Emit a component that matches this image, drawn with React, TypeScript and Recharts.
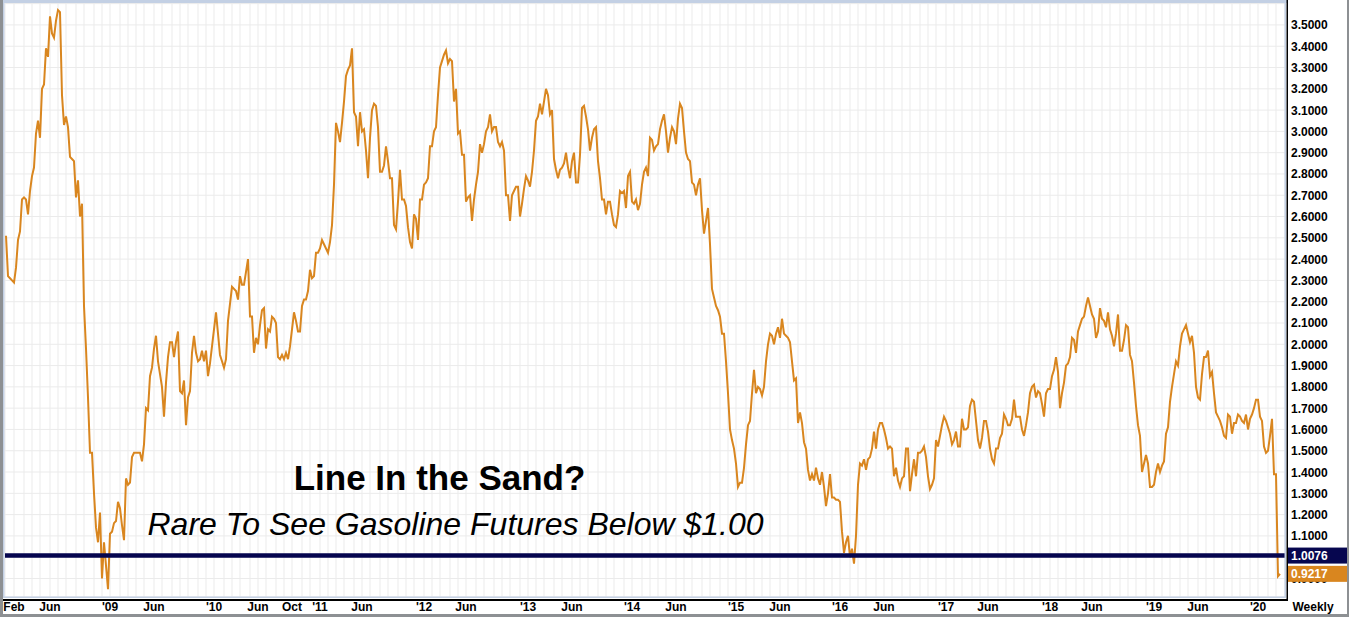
import React from "react";
import { LineChart, Line, XAxis, YAxis, CartesianGrid, ReferenceLine } from "recharts";

// Weekly gasoline futures closes, first week = 2008-01-04
const startDate = "2008-01-04";
const prices = [
  2.51, 2.32, 2.31, 2.30, 2.29, 2.36, 2.49, 2.53, 2.68, 2.69,
  2.68, 2.61, 2.72, 2.79, 2.83, 2.99, 3.05, 2.97, 3.20, 3.22,
  3.39, 3.35, 3.54, 3.46, 3.44, 3.52, 3.57, 3.56, 3.17, 3.03,
  3.07, 3.02, 2.88, 2.87, 2.86, 2.69, 2.77, 2.60, 2.66, 2.18,
  1.98, 1.75, 1.49, 1.49, 1.30, 1.14, 1.07, 1.21, 0.90, 1.07,
  0.96, 0.85, 1.11, 1.12, 1.16, 1.17, 1.26, 1.23, 1.15, 1.08,
  1.37, 1.34, 1.35, 1.47, 1.49, 1.49, 1.49, 1.49, 1.45, 1.53,
  1.70, 1.69, 1.85, 1.89, 1.98, 2.04, 1.92, 1.86, 1.80, 1.66,
  1.82, 1.94, 2.01, 2.01, 1.94, 2.01, 2.06, 1.78, 1.77, 1.83,
  1.62, 1.75, 1.78, 1.96, 2.04, 1.96, 1.92, 1.93, 1.97, 1.92,
  1.97, 1.85, 1.91, 1.99, 2.07, 2.15, 2.05, 1.95, 1.92, 1.89,
  1.93, 2.11, 2.19, 2.27, 2.26, 2.25, 2.21, 2.32, 2.28, 2.28,
  2.34, 2.40, 2.13, 2.13, 1.96, 2.03, 2.00, 2.09, 2.16, 2.17,
  1.98, 2.07, 2.06, 2.13, 2.12, 2.10, 1.94, 1.93, 1.95, 1.93,
  1.96, 1.93, 1.99, 2.07, 2.15, 2.11, 2.06, 2.06, 2.18, 2.21,
  2.21, 2.25, 2.35, 2.31, 2.32, 2.43, 2.43, 2.45, 2.49, 2.47,
  2.45, 2.43, 2.48, 2.56, 2.75, 3.04, 3.00, 2.95, 3.04, 3.14,
  3.26, 3.29, 3.31, 3.39, 3.09, 3.07, 2.93, 3.09, 3.00, 3.01,
  2.91, 2.78, 2.97, 3.10, 3.13, 3.12, 3.02, 2.81, 2.81, 2.84,
  2.93, 2.86, 2.78, 2.78, 2.56, 2.54, 2.67, 2.82, 2.68, 2.68,
  2.65, 2.55, 2.48, 2.45, 2.61, 2.59, 2.49, 2.68, 2.68, 2.75,
  2.76, 2.78, 2.93, 2.93, 3.00, 3.02, 3.17, 3.30, 3.33, 3.36,
  3.38, 3.32, 3.34, 3.33, 3.14, 3.20, 2.99, 3.00, 2.89, 2.89,
  2.67, 2.69, 2.70, 2.58, 2.68, 2.75, 2.81, 2.94, 2.90, 2.94,
  3.00, 3.02, 3.08, 3.00, 3.02, 3.02, 2.95, 2.93, 2.95, 2.91,
  2.70, 2.70, 2.58, 2.70, 2.72, 2.74, 2.74, 2.60, 2.66, 2.73,
  2.79, 2.77, 2.74, 2.81, 2.91, 3.05, 3.07, 3.13, 3.08, 3.14,
  3.20, 3.17, 3.08, 3.10, 2.87, 2.82, 2.78, 2.82, 2.83, 2.85,
  2.90, 2.83, 2.78, 2.86, 2.90, 2.76, 2.76, 2.89, 3.11, 3.12,
  3.07, 3.01, 2.91, 2.97, 3.01, 3.02, 2.86, 2.78, 2.68, 2.68,
  2.61, 2.67, 2.67, 2.61, 2.56, 2.55, 2.61, 2.72, 2.71, 2.72,
  2.64, 2.79, 2.81, 2.67, 2.66, 2.68, 2.63, 2.66, 2.75, 2.81,
  2.83, 2.79, 2.97, 2.96, 2.91, 2.93, 2.94, 3.01, 3.05, 3.08,
  3.00, 2.90, 2.97, 3.02, 3.00, 2.94, 3.06, 3.13, 3.11, 3.00,
  2.90, 2.87, 2.86, 2.76, 2.75, 2.70, 2.75, 2.78, 2.63, 2.52,
  2.58, 2.64, 2.47, 2.26, 2.22, 2.18, 2.16, 2.13, 2.05, 2.05,
  1.92, 1.77, 1.60, 1.55, 1.51, 1.44, 1.33, 1.35, 1.35, 1.42,
  1.53, 1.62, 1.64, 1.77, 1.88, 1.77, 1.80, 1.79, 1.76, 1.80,
  1.92, 2.00, 2.05, 2.04, 2.00, 2.05, 2.08, 2.03, 2.12, 2.05,
  2.04, 2.03, 2.01, 1.92, 1.83, 1.84, 1.63, 1.68, 1.63, 1.54,
  1.51, 1.41, 1.36, 1.39, 1.36, 1.42, 1.37, 1.34, 1.40, 1.33,
  1.24, 1.30, 1.39, 1.28, 1.28, 1.27, 1.27, 1.26, 1.12, 1.02,
  1.07, 1.10, 1.00, 1.04, 0.97, 1.10, 1.34, 1.44, 1.43, 1.46,
  1.41, 1.46, 1.47, 1.51, 1.59, 1.51, 1.60, 1.63, 1.63, 1.60,
  1.56, 1.51, 1.52, 1.51, 1.38, 1.42, 1.36, 1.33, 1.37, 1.38,
  1.51, 1.51, 1.31, 1.39, 1.46, 1.38, 1.49, 1.49, 1.50, 1.52,
  1.47, 1.38, 1.32, 1.34, 1.37, 1.55, 1.52, 1.57, 1.62, 1.66,
  1.64, 1.61, 1.58, 1.53, 1.55, 1.59, 1.52, 1.52, 1.65, 1.60,
  1.60, 1.61, 1.71, 1.74, 1.73, 1.64, 1.55, 1.51, 1.56, 1.64,
  1.64, 1.59, 1.51, 1.46, 1.44, 1.51, 1.51, 1.56, 1.58, 1.67,
  1.65, 1.62, 1.62, 1.65, 1.74, 1.66, 1.66, 1.66, 1.60, 1.57,
  1.62, 1.68, 1.77, 1.80, 1.81, 1.75, 1.78, 1.77, 1.72, 1.66,
  1.77, 1.79, 1.79, 1.85, 1.88, 1.94, 1.87, 1.70, 1.77, 1.82,
  1.90, 1.91, 1.94, 2.03, 2.02, 1.96, 2.06, 2.09, 2.12, 2.13,
  2.18, 2.22, 2.18, 2.14, 2.12, 2.03, 2.06, 2.17, 2.12, 2.11,
  2.08, 2.15, 2.07, 2.04, 1.99, 2.05, 2.14, 1.97, 1.97, 2.02,
  2.09, 2.08, 1.95, 1.92, 1.82, 1.71, 1.62, 1.57, 1.40, 1.44,
  1.48, 1.44, 1.33, 1.33, 1.34, 1.40, 1.44, 1.40, 1.43, 1.45,
  1.58, 1.61, 1.73, 1.80, 1.86, 1.92, 1.90, 1.99, 2.05, 2.07,
  2.09, 2.05, 2.01, 2.04, 1.96, 1.80, 1.75, 1.74, 1.86, 1.94,
  1.94, 1.97, 1.85, 1.87, 1.77, 1.68, 1.66, 1.64, 1.61, 1.57,
  1.56, 1.67, 1.66, 1.58, 1.63, 1.63, 1.67, 1.66, 1.64, 1.63,
  1.67, 1.60, 1.65, 1.67, 1.70, 1.74, 1.74, 1.66, 1.64, 1.52,
  1.49, 1.50, 1.57, 1.65, 1.39, 1.39, 0.91, 0.9217,
];

const supportLevel = 1.0076;
const lastPrice = 0.9217;
const tagValues = [lastPrice, supportLevel];

const yTicks = [
  0.9, 1.0, 1.1, 1.2, 1.3, 1.4, 1.5, 1.6, 1.7, 1.8, 1.9, 2.0, 2.1, 2.2,
  2.3, 2.4, 2.5, 2.6, 2.7, 2.8, 2.9, 3.0, 3.1, 3.2, 3.3, 3.4, 3.5, 3.6,
];
const yMaxLabel = 3.5;
const yDomain: [number, number] = [0.813, 3.603];

const labelMonths = [
  "2008-02", "2008-06", "2009-01", "2009-06", "2010-01", "2010-06", "2010-10",
  "2011-01", "2011-06", "2012-01", "2012-06", "2013-01", "2013-06", "2014-01",
  "2014-06", "2015-01", "2015-06", "2016-01", "2016-06", "2017-01", "2017-06",
  "2018-01", "2018-06", "2019-01", "2019-06", "2020-01",
];
const labelTexts = [
  "Feb", "Jun", "'09", "Jun", "'10", "Jun", "Oct", "'11", "Jun", "'12", "Jun",
  "'13", "Jun", "'14", "Jun", "'15", "Jun", "'16", "Jun", "'17", "Jun", "'18",
  "Jun", "'19", "Jun", "'20",
];
const gridFirstMonth = "2008-02";
const gridLastMonth = "2020-03";

const title = "Line In the Sand?";
const subtitle = "Rare To See Gasoline Futures Below $1.00";
const periodText = "Weekly";

// ---- derived ----
const WEEK_MS = 7 * 24 * 3600 * 1000;
const startMs = Date.parse(startDate + "T00:00:00Z");
const weekOfMonth = (ym: string) => {
  const [y, m] = ym.split("-").map(Number);
  return Math.ceil((Date.UTC(y, m - 1, 1) - startMs) / WEEK_MS);
};
const data = prices.map((p, i) => ({ week: i, price: p }));

const monthTicks: number[] = [];
{
  let [y, m] = gridFirstMonth.split("-").map(Number);
  const [ey, em] = gridLastMonth.split("-").map(Number);
  while (y < ey || (y === ey && m <= em)) {
    monthTicks.push(weekOfMonth(`${y}-${String(m).padStart(2, "0")}`));
    m++;
    if (m > 12) { m = 1; y++; }
  }
}
const labelByWeek = new Map<number, string>();
labelMonths.forEach((ym, i) => labelByWeek.set(weekOfMonth(ym), labelTexts[i]));

const FONT = "'Liberation Sans', Arial, Helvetica, sans-serif";
const LINE_COLOR = "#d9861f";
const NAVY = "#06064f";
const GRID = "#ebebeb";
const FRAME_BLUE = "#c3d0e4";
const FRAME_GRAY = "#8d9093";

const XTick = (props: any) => {
  const { x, y, payload } = props;
  const label = labelByWeek.get(payload.value);
  if (!label) return <g />;
  return (
    <text x={x} y={y + 14} textAnchor="middle" fontSize={12} fontWeight="bold" fill="#000" fontFamily={FONT}>
      {label}
    </text>
  );
};

const YTick = (props: any) => {
  const { x, y, payload } = props;
  if (payload.value > yMaxLabel + 1e-6) return <g />;
  return (
    <text x={x + 6} y={y + 4.5} textAnchor="start" fontSize={12} fontWeight="bold" fill="#000" fontFamily={FONT}>
      {Number(payload.value).toFixed(4)}
    </text>
  );
};

// price tags drawn by a thin second axis so they sit above the tick labels
const TagTick = (props: any) => {
  const { x, y, payload } = props;
  const v = Number(payload.value);
  const fill = Math.abs(v - supportLevel) < 1e-6 ? NAVY : LINE_COLOR;
  const left = x - 58;
  return (
    <g>
      <rect x={left} y={y - 8} width={59} height={16} fill={fill} />
      <text x={left + 3} y={y + 4.5} fill="#fff" fontSize={12} fontWeight="bold" fontFamily={FONT}>
        {v.toFixed(4)}
      </text>
    </g>
  );
};

export default function App() {
  return (
    <div style={{ position: "relative", width: 1349, height: 617, background: "#fff", overflow: "hidden" }}>
      <style>{`body{margin:0;}`}</style>
      <LineChart
        width={1349}
        height={617}
        data={data}
        margin={{ top: 3, right: 2, bottom: 2, left: 5 }}
      >
        <CartesianGrid stroke={GRID} strokeWidth={1} />
        <XAxis
          type="number"
          dataKey="week"
          domain={[-0.5, 639.5]}
          ticks={monthTicks}
          interval={0}
          tickLine={false}
          axisLine={false}
          tickSize={0}
          tickMargin={0}
          height={18}
          tick={<XTick />}
          allowDataOverflow
        />
        <YAxis
          orientation="right"
          type="number"
          domain={yDomain}
          ticks={yTicks}
          interval={0}
          tickLine={false}
          axisLine={false}
          tickSize={0}
          tickMargin={0}
          width={61}
          tick={<YTick />}
          allowDataOverflow
        />
        <YAxis
          yAxisId="tags"
          orientation="right"
          type="number"
          domain={yDomain}
          ticks={tagValues}
          interval={0}
          tickLine={false}
          axisLine={false}
          tickSize={0}
          tickMargin={0}
          width={1}
          tick={<TagTick />}
          allowDataOverflow
        />
        <Line
          type="linear"
          dataKey="price"
          stroke={LINE_COLOR}
          strokeWidth={2}
          dot={false}
          isAnimationActive={false}
        />
        <ReferenceLine y={supportLevel} stroke={NAVY} strokeWidth={4.5} />
        <ReferenceLine y={lastPrice} yAxisId="tags" stroke="none" strokeWidth={0} />
      </LineChart>
      <svg
        width={1349}
        height={617}
        style={{ position: "absolute", left: 0, top: 0, pointerEvents: "none" }}
      >
        <text x={439.5} y={490} textAnchor="middle" fontSize={35} fontWeight="bold" fill="#000" fontFamily={FONT}>
          {title}
        </text>
        <text x={455.5} y={535} textAnchor="middle" fontSize={32} fontStyle="italic" fill="#000" fontFamily={FONT}>
          {subtitle}
        </text>
        <text x={1313} y={611} textAnchor="middle" fontSize={12} fontWeight="bold" fill="#000" fontFamily={FONT}>
          {periodText}
        </text>
        {/* frame */}
        <rect x={3} y={0} width={1284} height={3} fill={FRAME_BLUE} />
        <rect x={3} y={0} width={1.5} height={598} fill={FRAME_BLUE} />
        <rect x={3} y={596.5} width={1283} height={1.5} fill={FRAME_BLUE} />
        <rect x={1284.5} y={0} width={1.5} height={598} fill={FRAME_BLUE} />
        <rect x={1286.5} y={0} width={1.5} height={601} fill="#000" />
        <rect x={3} y={599} width={1285} height={2} fill="#000" />
        <rect x={0} y={0} width={3} height={617} fill={FRAME_GRAY} />
        <rect x={1347} y={0} width={2} height={617} fill={FRAME_GRAY} />
        <rect x={0} y={614} width={1349} height={3} fill={FRAME_GRAY} />
      </svg>
    </div>
  );
}
